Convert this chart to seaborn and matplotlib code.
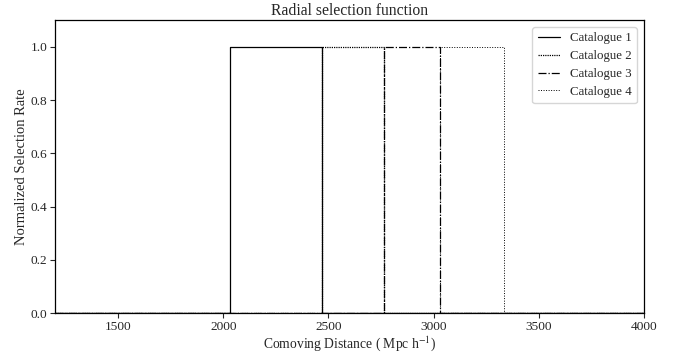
import numpy as np
import pandas as pd
import matplotlib
matplotlib.use("Agg")
import matplotlib.pyplot as plt
import seaborn as sns

catalogues = ["Catalogue 1", "Catalogue 2", "Catalogue 3", "Catalogue 4"]
lower_edges = [2030, 2470, 2765, 3030]
upper_edges = [2470, 2765, 3030, 3335]
selection_rate = [1.0, 1.0, 1.0, 1.0]
distance_min = 1200
distance_max = 4000

rows = []
for name, lo, hi, v in zip(catalogues, lower_edges, upper_edges, selection_rate):
    xs = [distance_min, lo, lo, hi, hi, distance_max]
    ys = [0.0, 0.0, v, v, 0.0, 0.0]
    for i, (x, y) in enumerate(zip(xs, ys)):
        rows.append({"Catalogue": name, "order": i, "x": x, "y": y})
df = pd.DataFrame(rows)

sns.set_style("ticks")
plt.rcParams["font.family"] = ["Liberation Serif", "DejaVu Serif"]
plt.rcParams["mathtext.fontset"] = "stix"

fig, ax = plt.subplots(figsize=(6.88, 3.52), dpi=100)
styles = {"Catalogue 1": "-", "Catalogue 2": (0, (1, 0.8)),
          "Catalogue 3": "-.", "Catalogue 4": (0, (1, 1.6))}
widths = {"Catalogue 1": 0.9, "Catalogue 2": 0.9, "Catalogue 3": 0.9, "Catalogue 4": 0.7}
for name in catalogues:
    sub = df[df["Catalogue"] == name]
    sns.lineplot(data=sub, x="x", y="y", sort=False, estimator=None, ax=ax,
                 color="black", linestyle=styles[name], linewidth=widths[name],
                 label=name)

ax.set_xlim(distance_min, distance_max)
ax.set_ylim(0, 1.1)
ax.set_xticks([1500, 2000, 2500, 3000, 3500, 4000])
ax.set_yticks([0.0, 0.2, 0.4, 0.6, 0.8, 1.0])
ax.set_title("Radial selection function", fontsize=11.3, pad=4)
ax.set_xlabel(r"Comoving Distance ( Mpc h$^{-1}$)", fontsize=9.8, labelpad=1)
ax.set_ylabel("Normalized Selection Rate", fontsize=10.5, labelpad=2)
ax.tick_params(labelsize=9.6, length=3.5, width=0.8, pad=2)
for s in ax.spines.values():
    s.set_visible(True)
    s.set_linewidth(0.9)
    s.set_color("black")
leg = ax.legend(loc="upper right", fontsize=9.3, frameon=True, handlelength=1.7,
                labelspacing=0.45, borderaxespad=0.55)
leg.get_frame().set_edgecolor("#cccccc")
fig.subplots_adjust(left=0.08, right=0.936, top=0.943, bottom=0.11)
fig.savefig("out.png", dpi=100)
